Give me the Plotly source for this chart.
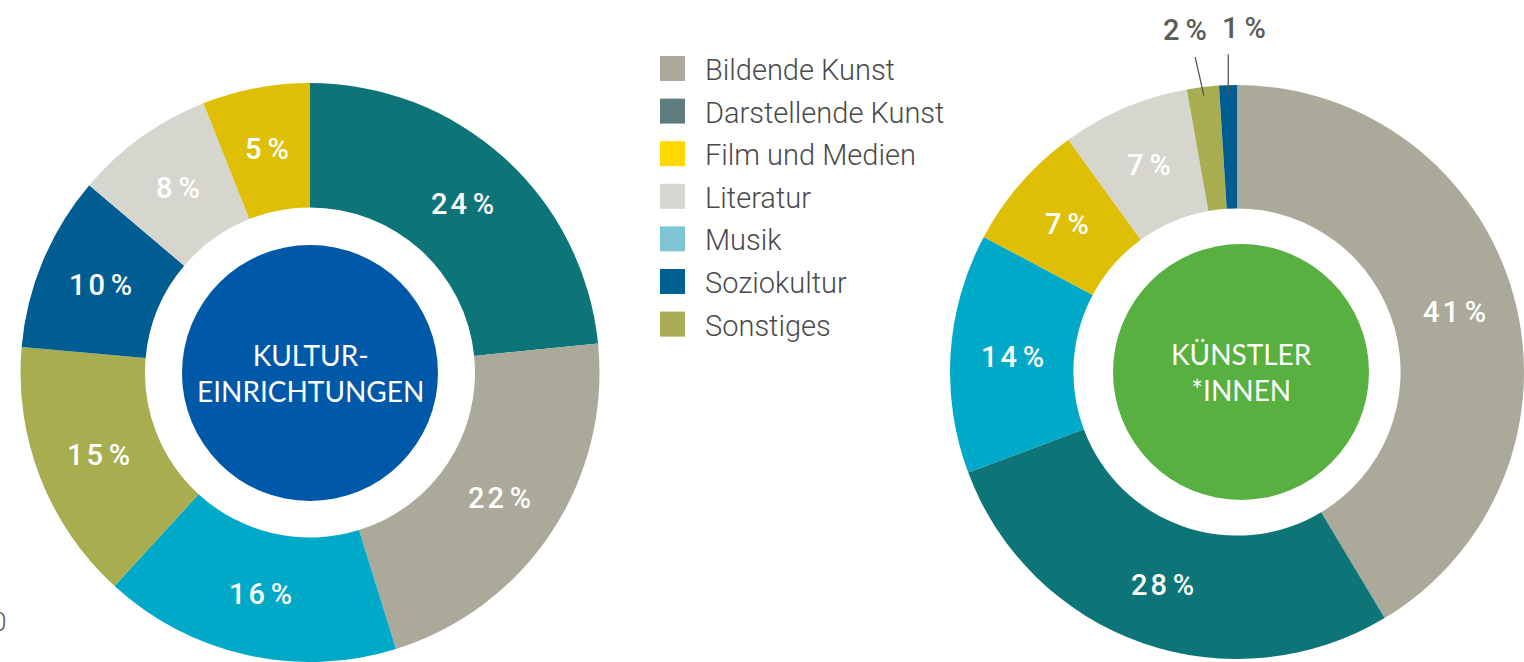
import math
import plotly.graph_objects as go

# ---------------- data ----------------
left_labels = ["Darstellende Kunst", "Bildende Kunst", "Musik", "Sonstiges",
               "Soziokultur", "Literatur", "Film und Medien"]
left_values = [23.4, 21.8, 16.6, 14.6, 9.8, 7.8, 6.0]
left_text = ["24 %", "22 %", "16 %", "15 %", "10 %", "8 %", "5 %"]
left_title = "KULTUR-<br>EINRICHTUNGEN"

right_labels = ["Bildende Kunst", "Darstellende Kunst", "Musik", "Film und Medien",
                "Literatur", "Sonstiges", "Soziokultur"]
right_values = [41.4, 27.9, 13.5, 7.2, 7.2, 1.8, 1.0]
right_text = ["41 %", "28 %", "14 %", "7 %", "7 %", "2 %", "1 %"]
right_title = "KÜNSTLER<br>*INNEN"

legend_labels = ["Bildende Kunst", "Darstellende Kunst", "Film und Medien",
                 "Literatur", "Musik", "Soziokultur", "Sonstiges"]

# ---------------- styles ----------------
slice_colors = {
    "Bildende Kunst": "#abaa9a",
    "Darstellende Kunst": "#0d7477",
    "Film und Medien": "#dfbf05",
    "Literatur": "#d6d6cf",
    "Musik": "#00a9c7",
    "Soziokultur": "#005d92",
    "Sonstiges": "#a8ad50",
}
legend_colors = {
    "Bildende Kunst": "#abaa9a",
    "Darstellende Kunst": "#5e7b80",
    "Film und Medien": "#ffd800",
    "Literatur": "#d6d6cf",
    "Musik": "#7fc4d3",
    "Soziokultur": "#006090",
    "Sonstiges": "#a8ac52",
}

W, H = 1524, 662
HOLE = 0.57


def paper(x, y):
    return x / W, 1 - y / H


left_dom = dict(x=[20 / W, 600 / W], y=[0, 1 - 83 / H])
right_dom = dict(x=[950 / W, 1.0], y=[0, 1 - 82 / H])


def geom(dom):
    x0, x1 = dom["x"][0] * W, dom["x"][1] * W
    y0, y1 = (1 - dom["y"][1]) * H, (1 - dom["y"][0]) * H
    r = min(x1 - x0, y1 - y0) / 2
    return (x0 + x1) / 2, (y0 + y1) / 2, r


fig = go.Figure()
for labels, values, dom in [(left_labels, left_values, left_dom),
                            (right_labels, right_values, right_dom)]:
    fig.add_trace(go.Pie(
        labels=labels, values=values, domain=dom, hole=HOLE,
        sort=False, direction="clockwise", rotation=0,
        marker=dict(colors=[slice_colors[l] for l in labels], line=dict(width=0)),
        textinfo="none", showlegend=False, hoverinfo="label+percent",
    ))

annotations = []
shapes = []


def fmt(t):
    num, pct = t.split(" ")
    return "\u200a".join(num) + "\u2009" + pct


def slice_mid(values, i):
    tot = sum(values)
    cum = sum(values[:i]) + values[i] / 2
    return 2 * math.pi * cum / tot


def add_labels(values, texts, dom, small):
    cx, cy, r = geom(dom)
    rl = (HOLE * r + r) / 2
    for i, v in enumerate(values):
        a = slice_mid(values, i)
        if i in small:
            hx, hy = cx + 0.97 * r * math.sin(a), cy - 0.97 * r * math.cos(a)
            (ldx, ldy), (tdx, tdy) = small[i]
            x, y = paper(hx, hy)
            annotations.append(dict(
                x=x, y=y, xref="paper", yref="paper", text="", showarrow=True,
                arrowhead=0, arrowwidth=1.3, arrowcolor="#555555",
                ax=ldx, ay=ldy))
            tx, ty = paper(hx + tdx, hy + tdy)
            annotations.append(dict(
                x=tx, y=ty, xref="paper", yref="paper", text=fmt(texts[i]),
                showarrow=False, xanchor="center", yanchor="middle",
                font=dict(family="Roboto", size=29, color="#5b5b57", weight=500)))
        else:
            px, py = cx + rl * math.sin(a), cy - rl * math.cos(a)
            x, y = paper(px, py)
            annotations.append(dict(
                x=x, y=y, xref="paper", yref="paper", text=fmt(texts[i]),
                showarrow=False, xanchor="center", yanchor="middle",
                font=dict(family="Roboto", size=29, color="white", weight=500)))


add_labels(left_values, left_text, left_dom, {})
add_labels(right_values, right_text, right_dom,
           {5: ((-9, -40), (-19, -66)), 6: ((0, -41), (16, -66))})

# center circles with titles
for (ccx, ccy), color, title in [((310, 373), "#0058a8", left_title),
                                  ((1241, 372), "#57b040", right_title)]:
    rr = 128
    x0, y1 = paper(ccx - rr, ccy - rr)
    x1, y0 = paper(ccx + rr, ccy + rr)
    shapes.append(dict(type="circle", xref="paper", yref="paper",
                       x0=x0, x1=x1, y0=y0, y1=y1,
                       fillcolor=color, line=dict(width=0)))
    tx, ty = paper(ccx, ccy)
    annotations.append(dict(x=tx, y=ty, xref="paper", yref="paper", text=title,
                            showarrow=False, align="center",
                            xanchor="center", yanchor="middle",
                            font=dict(family="Lato", size=28, color="white")))

# custom legend
for i, lab in enumerate(legend_labels):
    yc = 68.5 + i * 42.6
    x0, y1 = paper(660, yc - 12.5)
    x1, y0 = paper(685, yc + 12.5)
    shapes.append(dict(type="rect", xref="paper", yref="paper",
                       x0=x0, x1=x1, y0=y0, y1=y1,
                       fillcolor=legend_colors[lab], line=dict(width=0)))
    tx, ty = paper(703, yc + 1.5)
    annotations.append(dict(x=tx, y=ty, xref="paper", yref="paper", text=lab,
                            showarrow=False, xanchor="left", yanchor="middle",
                            font=dict(family="Roboto", size=29, color="#4a4a4a",
                                      weight=300)))

# cut-off footnote fragment at the bottom-left edge
fx, fy = paper(7.5, 622)
annotations.append(dict(x=fx, y=fy, xref="paper", yref="paper", text="0",
                        showarrow=False, xanchor="right", yanchor="middle",
                        font=dict(family="Roboto", size=26, color="#555555",
                                  weight=300)))

fig.update_layout(
    width=W, height=H,
    margin=dict(l=0, r=0, t=0, b=0),
    paper_bgcolor="white", plot_bgcolor="white",
    annotations=annotations, shapes=shapes,
)

fig.write_html("out.html",
               config={"displayModeBar": False},
               post_script="document.body.style.margin='0px';"
                           "document.body.style.overflow='hidden';")
